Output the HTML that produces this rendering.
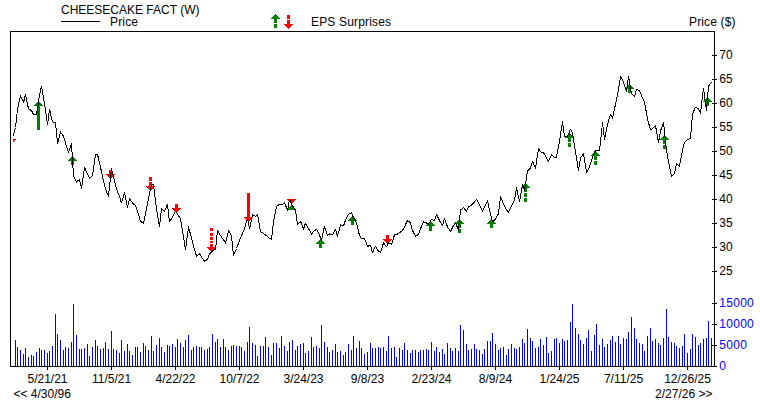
<!DOCTYPE html>
<html><head><meta charset="utf-8"><title>CHEESECAKE FACT (W)</title>
<style>
html,body{margin:0;padding:0;background:#fff;}
body{width:760px;height:400px;overflow:hidden;}
svg{display:block;}
.t{font-family:"Liberation Sans",Arial,sans-serif;font-size:12px;fill:#000;}
.b{fill:#0000ff;}
</style></head><body>
<svg width="760" height="400" viewBox="0 0 760 400">
<defs><clipPath id="cl"><rect x="13" y="32" width="701" height="334"/></clipPath></defs>
<rect width="760" height="400" fill="#fff"/>
<g shape-rendering="crispEdges">
<rect x="15" y="340" width="1" height="26" fill="#0000ff"/>
<rect x="17" y="347" width="1" height="19" fill="#0000ff"/>
<rect x="20" y="350" width="1" height="16" fill="#0000ff"/>
<rect x="23" y="354" width="1" height="12" fill="#0000ff"/>
<rect x="25" y="348" width="1" height="18" fill="#0000ff"/>
<rect x="28" y="357" width="1" height="9" fill="#0000ff"/>
<rect x="31" y="355" width="1" height="11" fill="#0000ff"/>
<rect x="33" y="356" width="1" height="10" fill="#0000ff"/>
<rect x="36" y="352" width="1" height="14" fill="#0000ff"/>
<rect x="39" y="348" width="1" height="18" fill="#0000ff"/>
<rect x="41" y="350" width="1" height="16" fill="#0000ff"/>
<rect x="44" y="350" width="1" height="16" fill="#0000ff"/>
<rect x="47" y="353" width="1" height="13" fill="#0000ff"/>
<rect x="49" y="351" width="1" height="15" fill="#0000ff"/>
<rect x="52" y="346" width="1" height="20" fill="#0000ff"/>
<rect x="55" y="314" width="1" height="52" fill="#0000ff"/>
<rect x="57" y="334" width="1" height="32" fill="#0000ff"/>
<rect x="60" y="340" width="1" height="26" fill="#0000ff"/>
<rect x="63" y="350" width="1" height="16" fill="#0000ff"/>
<rect x="65" y="347" width="1" height="19" fill="#0000ff"/>
<rect x="68" y="348" width="1" height="18" fill="#0000ff"/>
<rect x="71" y="342" width="1" height="24" fill="#0000ff"/>
<rect x="73" y="304" width="1" height="62" fill="#0000ff"/>
<rect x="76" y="335" width="1" height="31" fill="#0000ff"/>
<rect x="79" y="349" width="1" height="17" fill="#0000ff"/>
<rect x="81" y="349" width="1" height="17" fill="#0000ff"/>
<rect x="84" y="348" width="1" height="18" fill="#0000ff"/>
<rect x="87" y="344" width="1" height="22" fill="#0000ff"/>
<rect x="89" y="356" width="1" height="10" fill="#0000ff"/>
<rect x="92" y="347" width="1" height="19" fill="#0000ff"/>
<rect x="95" y="340" width="1" height="26" fill="#0000ff"/>
<rect x="97" y="346" width="1" height="20" fill="#0000ff"/>
<rect x="100" y="349" width="1" height="17" fill="#0000ff"/>
<rect x="103" y="348" width="1" height="18" fill="#0000ff"/>
<rect x="105" y="342" width="1" height="24" fill="#0000ff"/>
<rect x="108" y="349" width="1" height="17" fill="#0000ff"/>
<rect x="111" y="331" width="1" height="35" fill="#0000ff"/>
<rect x="113" y="349" width="1" height="17" fill="#0000ff"/>
<rect x="116" y="350" width="1" height="16" fill="#0000ff"/>
<rect x="119" y="353" width="1" height="13" fill="#0000ff"/>
<rect x="121" y="340" width="1" height="26" fill="#0000ff"/>
<rect x="124" y="351" width="1" height="15" fill="#0000ff"/>
<rect x="127" y="344" width="1" height="22" fill="#0000ff"/>
<rect x="129" y="351" width="1" height="15" fill="#0000ff"/>
<rect x="132" y="355" width="1" height="11" fill="#0000ff"/>
<rect x="135" y="347" width="1" height="19" fill="#0000ff"/>
<rect x="137" y="347" width="1" height="19" fill="#0000ff"/>
<rect x="140" y="352" width="1" height="14" fill="#0000ff"/>
<rect x="143" y="343" width="1" height="23" fill="#0000ff"/>
<rect x="145" y="346" width="1" height="20" fill="#0000ff"/>
<rect x="148" y="350" width="1" height="16" fill="#0000ff"/>
<rect x="151" y="336" width="1" height="30" fill="#0000ff"/>
<rect x="153" y="351" width="1" height="15" fill="#0000ff"/>
<rect x="156" y="345" width="1" height="21" fill="#0000ff"/>
<rect x="159" y="338" width="1" height="28" fill="#0000ff"/>
<rect x="161" y="347" width="1" height="19" fill="#0000ff"/>
<rect x="164" y="352" width="1" height="14" fill="#0000ff"/>
<rect x="167" y="345" width="1" height="21" fill="#0000ff"/>
<rect x="169" y="346" width="1" height="20" fill="#0000ff"/>
<rect x="172" y="344" width="1" height="22" fill="#0000ff"/>
<rect x="175" y="347" width="1" height="19" fill="#0000ff"/>
<rect x="177" y="339" width="1" height="27" fill="#0000ff"/>
<rect x="180" y="343" width="1" height="23" fill="#0000ff"/>
<rect x="183" y="347" width="1" height="19" fill="#0000ff"/>
<rect x="185" y="340" width="1" height="26" fill="#0000ff"/>
<rect x="188" y="335" width="1" height="31" fill="#0000ff"/>
<rect x="191" y="350" width="1" height="16" fill="#0000ff"/>
<rect x="193" y="347" width="1" height="19" fill="#0000ff"/>
<rect x="196" y="346" width="1" height="20" fill="#0000ff"/>
<rect x="199" y="347" width="1" height="19" fill="#0000ff"/>
<rect x="201" y="347" width="1" height="19" fill="#0000ff"/>
<rect x="204" y="350" width="1" height="16" fill="#0000ff"/>
<rect x="207" y="349" width="1" height="17" fill="#0000ff"/>
<rect x="209" y="347" width="1" height="19" fill="#0000ff"/>
<rect x="212" y="334" width="1" height="32" fill="#0000ff"/>
<rect x="215" y="342" width="1" height="24" fill="#0000ff"/>
<rect x="217" y="339" width="1" height="27" fill="#0000ff"/>
<rect x="220" y="347" width="1" height="19" fill="#0000ff"/>
<rect x="223" y="339" width="1" height="27" fill="#0000ff"/>
<rect x="225" y="347" width="1" height="19" fill="#0000ff"/>
<rect x="228" y="350" width="1" height="16" fill="#0000ff"/>
<rect x="231" y="346" width="1" height="20" fill="#0000ff"/>
<rect x="233" y="345" width="1" height="21" fill="#0000ff"/>
<rect x="236" y="346" width="1" height="20" fill="#0000ff"/>
<rect x="239" y="346" width="1" height="20" fill="#0000ff"/>
<rect x="241" y="347" width="1" height="19" fill="#0000ff"/>
<rect x="244" y="351" width="1" height="15" fill="#0000ff"/>
<rect x="247" y="342" width="1" height="24" fill="#0000ff"/>
<rect x="249" y="327" width="1" height="39" fill="#0000ff"/>
<rect x="252" y="343" width="1" height="23" fill="#0000ff"/>
<rect x="255" y="345" width="1" height="21" fill="#0000ff"/>
<rect x="257" y="356" width="1" height="10" fill="#0000ff"/>
<rect x="260" y="346" width="1" height="20" fill="#0000ff"/>
<rect x="263" y="346" width="1" height="20" fill="#0000ff"/>
<rect x="265" y="337" width="1" height="29" fill="#0000ff"/>
<rect x="268" y="347" width="1" height="19" fill="#0000ff"/>
<rect x="271" y="355" width="1" height="11" fill="#0000ff"/>
<rect x="273" y="343" width="1" height="23" fill="#0000ff"/>
<rect x="276" y="343" width="1" height="23" fill="#0000ff"/>
<rect x="279" y="348" width="1" height="18" fill="#0000ff"/>
<rect x="281" y="336" width="1" height="30" fill="#0000ff"/>
<rect x="284" y="346" width="1" height="20" fill="#0000ff"/>
<rect x="287" y="351" width="1" height="15" fill="#0000ff"/>
<rect x="289" y="342" width="1" height="24" fill="#0000ff"/>
<rect x="292" y="340" width="1" height="26" fill="#0000ff"/>
<rect x="295" y="350" width="1" height="16" fill="#0000ff"/>
<rect x="297" y="346" width="1" height="20" fill="#0000ff"/>
<rect x="300" y="344" width="1" height="22" fill="#0000ff"/>
<rect x="303" y="343" width="1" height="23" fill="#0000ff"/>
<rect x="305" y="353" width="1" height="13" fill="#0000ff"/>
<rect x="308" y="351" width="1" height="15" fill="#0000ff"/>
<rect x="311" y="337" width="1" height="29" fill="#0000ff"/>
<rect x="313" y="347" width="1" height="19" fill="#0000ff"/>
<rect x="316" y="346" width="1" height="20" fill="#0000ff"/>
<rect x="319" y="348" width="1" height="18" fill="#0000ff"/>
<rect x="321" y="325" width="1" height="41" fill="#0000ff"/>
<rect x="324" y="342" width="1" height="24" fill="#0000ff"/>
<rect x="327" y="347" width="1" height="19" fill="#0000ff"/>
<rect x="329" y="352" width="1" height="14" fill="#0000ff"/>
<rect x="332" y="350" width="1" height="16" fill="#0000ff"/>
<rect x="335" y="344" width="1" height="22" fill="#0000ff"/>
<rect x="337" y="352" width="1" height="14" fill="#0000ff"/>
<rect x="340" y="351" width="1" height="15" fill="#0000ff"/>
<rect x="343" y="355" width="1" height="11" fill="#0000ff"/>
<rect x="345" y="352" width="1" height="14" fill="#0000ff"/>
<rect x="348" y="344" width="1" height="22" fill="#0000ff"/>
<rect x="351" y="350" width="1" height="16" fill="#0000ff"/>
<rect x="353" y="336" width="1" height="30" fill="#0000ff"/>
<rect x="356" y="348" width="1" height="18" fill="#0000ff"/>
<rect x="359" y="341" width="1" height="25" fill="#0000ff"/>
<rect x="361" y="348" width="1" height="18" fill="#0000ff"/>
<rect x="364" y="354" width="1" height="12" fill="#0000ff"/>
<rect x="367" y="352" width="1" height="14" fill="#0000ff"/>
<rect x="370" y="343" width="1" height="23" fill="#0000ff"/>
<rect x="372" y="348" width="1" height="18" fill="#0000ff"/>
<rect x="375" y="348" width="1" height="18" fill="#0000ff"/>
<rect x="378" y="347" width="1" height="19" fill="#0000ff"/>
<rect x="380" y="348" width="1" height="18" fill="#0000ff"/>
<rect x="383" y="347" width="1" height="19" fill="#0000ff"/>
<rect x="386" y="351" width="1" height="15" fill="#0000ff"/>
<rect x="388" y="336" width="1" height="30" fill="#0000ff"/>
<rect x="391" y="348" width="1" height="18" fill="#0000ff"/>
<rect x="394" y="347" width="1" height="19" fill="#0000ff"/>
<rect x="396" y="357" width="1" height="9" fill="#0000ff"/>
<rect x="399" y="348" width="1" height="18" fill="#0000ff"/>
<rect x="402" y="350" width="1" height="16" fill="#0000ff"/>
<rect x="404" y="343" width="1" height="23" fill="#0000ff"/>
<rect x="407" y="350" width="1" height="16" fill="#0000ff"/>
<rect x="410" y="353" width="1" height="13" fill="#0000ff"/>
<rect x="412" y="350" width="1" height="16" fill="#0000ff"/>
<rect x="415" y="350" width="1" height="16" fill="#0000ff"/>
<rect x="418" y="352" width="1" height="14" fill="#0000ff"/>
<rect x="420" y="350" width="1" height="16" fill="#0000ff"/>
<rect x="423" y="350" width="1" height="16" fill="#0000ff"/>
<rect x="426" y="349" width="1" height="17" fill="#0000ff"/>
<rect x="428" y="350" width="1" height="16" fill="#0000ff"/>
<rect x="431" y="342" width="1" height="24" fill="#0000ff"/>
<rect x="434" y="351" width="1" height="15" fill="#0000ff"/>
<rect x="436" y="347" width="1" height="19" fill="#0000ff"/>
<rect x="439" y="352" width="1" height="14" fill="#0000ff"/>
<rect x="442" y="349" width="1" height="17" fill="#0000ff"/>
<rect x="444" y="354" width="1" height="12" fill="#0000ff"/>
<rect x="447" y="343" width="1" height="23" fill="#0000ff"/>
<rect x="450" y="348" width="1" height="18" fill="#0000ff"/>
<rect x="452" y="351" width="1" height="15" fill="#0000ff"/>
<rect x="455" y="348" width="1" height="18" fill="#0000ff"/>
<rect x="458" y="351" width="1" height="15" fill="#0000ff"/>
<rect x="460" y="325" width="1" height="41" fill="#0000ff"/>
<rect x="463" y="330" width="1" height="36" fill="#0000ff"/>
<rect x="466" y="344" width="1" height="22" fill="#0000ff"/>
<rect x="468" y="350" width="1" height="16" fill="#0000ff"/>
<rect x="471" y="349" width="1" height="17" fill="#0000ff"/>
<rect x="474" y="344" width="1" height="22" fill="#0000ff"/>
<rect x="476" y="349" width="1" height="17" fill="#0000ff"/>
<rect x="479" y="350" width="1" height="16" fill="#0000ff"/>
<rect x="482" y="354" width="1" height="12" fill="#0000ff"/>
<rect x="484" y="349" width="1" height="17" fill="#0000ff"/>
<rect x="487" y="341" width="1" height="25" fill="#0000ff"/>
<rect x="490" y="341" width="1" height="25" fill="#0000ff"/>
<rect x="492" y="333" width="1" height="33" fill="#0000ff"/>
<rect x="495" y="344" width="1" height="22" fill="#0000ff"/>
<rect x="498" y="350" width="1" height="16" fill="#0000ff"/>
<rect x="500" y="348" width="1" height="18" fill="#0000ff"/>
<rect x="503" y="347" width="1" height="19" fill="#0000ff"/>
<rect x="506" y="355" width="1" height="11" fill="#0000ff"/>
<rect x="508" y="349" width="1" height="17" fill="#0000ff"/>
<rect x="511" y="344" width="1" height="22" fill="#0000ff"/>
<rect x="514" y="348" width="1" height="18" fill="#0000ff"/>
<rect x="516" y="349" width="1" height="17" fill="#0000ff"/>
<rect x="519" y="347" width="1" height="19" fill="#0000ff"/>
<rect x="522" y="339" width="1" height="27" fill="#0000ff"/>
<rect x="524" y="343" width="1" height="23" fill="#0000ff"/>
<rect x="527" y="329" width="1" height="37" fill="#0000ff"/>
<rect x="530" y="338" width="1" height="28" fill="#0000ff"/>
<rect x="532" y="341" width="1" height="25" fill="#0000ff"/>
<rect x="535" y="348" width="1" height="18" fill="#0000ff"/>
<rect x="538" y="347" width="1" height="19" fill="#0000ff"/>
<rect x="540" y="339" width="1" height="27" fill="#0000ff"/>
<rect x="543" y="345" width="1" height="21" fill="#0000ff"/>
<rect x="546" y="337" width="1" height="29" fill="#0000ff"/>
<rect x="548" y="353" width="1" height="13" fill="#0000ff"/>
<rect x="551" y="351" width="1" height="15" fill="#0000ff"/>
<rect x="554" y="339" width="1" height="27" fill="#0000ff"/>
<rect x="556" y="338" width="1" height="28" fill="#0000ff"/>
<rect x="559" y="343" width="1" height="23" fill="#0000ff"/>
<rect x="562" y="339" width="1" height="27" fill="#0000ff"/>
<rect x="564" y="341" width="1" height="25" fill="#0000ff"/>
<rect x="567" y="340" width="1" height="26" fill="#0000ff"/>
<rect x="570" y="322" width="1" height="44" fill="#0000ff"/>
<rect x="572" y="304" width="1" height="62" fill="#0000ff"/>
<rect x="575" y="328" width="1" height="38" fill="#0000ff"/>
<rect x="578" y="334" width="1" height="32" fill="#0000ff"/>
<rect x="580" y="340" width="1" height="26" fill="#0000ff"/>
<rect x="583" y="344" width="1" height="22" fill="#0000ff"/>
<rect x="586" y="338" width="1" height="28" fill="#0000ff"/>
<rect x="588" y="330" width="1" height="36" fill="#0000ff"/>
<rect x="591" y="351" width="1" height="15" fill="#0000ff"/>
<rect x="594" y="335" width="1" height="31" fill="#0000ff"/>
<rect x="596" y="324" width="1" height="42" fill="#0000ff"/>
<rect x="599" y="345" width="1" height="21" fill="#0000ff"/>
<rect x="602" y="339" width="1" height="27" fill="#0000ff"/>
<rect x="604" y="347" width="1" height="19" fill="#0000ff"/>
<rect x="607" y="344" width="1" height="22" fill="#0000ff"/>
<rect x="610" y="340" width="1" height="26" fill="#0000ff"/>
<rect x="612" y="336" width="1" height="30" fill="#0000ff"/>
<rect x="615" y="342" width="1" height="24" fill="#0000ff"/>
<rect x="618" y="336" width="1" height="30" fill="#0000ff"/>
<rect x="620" y="344" width="1" height="22" fill="#0000ff"/>
<rect x="623" y="338" width="1" height="28" fill="#0000ff"/>
<rect x="626" y="339" width="1" height="27" fill="#0000ff"/>
<rect x="628" y="332" width="1" height="34" fill="#0000ff"/>
<rect x="631" y="317" width="1" height="49" fill="#0000ff"/>
<rect x="634" y="328" width="1" height="38" fill="#0000ff"/>
<rect x="636" y="339" width="1" height="27" fill="#0000ff"/>
<rect x="639" y="343" width="1" height="23" fill="#0000ff"/>
<rect x="642" y="344" width="1" height="22" fill="#0000ff"/>
<rect x="644" y="351" width="1" height="15" fill="#0000ff"/>
<rect x="647" y="336" width="1" height="30" fill="#0000ff"/>
<rect x="650" y="328" width="1" height="38" fill="#0000ff"/>
<rect x="652" y="341" width="1" height="25" fill="#0000ff"/>
<rect x="655" y="339" width="1" height="27" fill="#0000ff"/>
<rect x="658" y="343" width="1" height="23" fill="#0000ff"/>
<rect x="660" y="345" width="1" height="21" fill="#0000ff"/>
<rect x="663" y="338" width="1" height="28" fill="#0000ff"/>
<rect x="666" y="309" width="1" height="57" fill="#0000ff"/>
<rect x="668" y="337" width="1" height="29" fill="#0000ff"/>
<rect x="671" y="342" width="1" height="24" fill="#0000ff"/>
<rect x="674" y="343" width="1" height="23" fill="#0000ff"/>
<rect x="676" y="346" width="1" height="20" fill="#0000ff"/>
<rect x="679" y="348" width="1" height="18" fill="#0000ff"/>
<rect x="682" y="346" width="1" height="20" fill="#0000ff"/>
<rect x="684" y="334" width="1" height="32" fill="#0000ff"/>
<rect x="687" y="353" width="1" height="13" fill="#0000ff"/>
<rect x="690" y="349" width="1" height="17" fill="#0000ff"/>
<rect x="692" y="334" width="1" height="32" fill="#0000ff"/>
<rect x="695" y="337" width="1" height="29" fill="#0000ff"/>
<rect x="698" y="345" width="1" height="21" fill="#0000ff"/>
<rect x="700" y="343" width="1" height="23" fill="#0000ff"/>
<rect x="703" y="339" width="1" height="27" fill="#0000ff"/>
<rect x="706" y="338" width="1" height="28" fill="#0000ff"/>
<rect x="708" y="321" width="1" height="45" fill="#0000ff"/>
<rect x="711" y="338" width="1" height="28" fill="#0000ff"/>
<g clip-path="url(#cl)">
<rect x="11" y="143" width="1" height="1" fill="#ff0000"/>
<rect x="10" y="142" width="3" height="1" fill="#ff0000"/>
<rect x="9" y="141" width="5" height="1" fill="#ff0000"/>
<rect x="8" y="140" width="7" height="1" fill="#ff0000"/>
<rect x="7" y="139" width="9" height="1" fill="#ff0000"/>
</g>
<rect x="38" y="101" width="1" height="1" fill="#008000"/>
<rect x="37" y="102" width="3" height="1" fill="#008000"/>
<rect x="36" y="103" width="5" height="1" fill="#008000"/>
<rect x="35" y="104" width="7" height="1" fill="#008000"/>
<rect x="34" y="105" width="9" height="1" fill="#008000"/>
<rect x="37" y="106" width="3" height="24" fill="#008000"/>
<rect x="72" y="156" width="1" height="1" fill="#008000"/>
<rect x="71" y="157" width="3" height="1" fill="#008000"/>
<rect x="70" y="158" width="5" height="1" fill="#008000"/>
<rect x="69" y="159" width="7" height="1" fill="#008000"/>
<rect x="68" y="160" width="9" height="1" fill="#008000"/>
<rect x="71" y="161" width="3" height="4" fill="#008000"/>
<rect x="110" y="178" width="1" height="1" fill="#ff0000"/>
<rect x="109" y="177" width="3" height="1" fill="#ff0000"/>
<rect x="108" y="176" width="5" height="1" fill="#ff0000"/>
<rect x="107" y="175" width="7" height="1" fill="#ff0000"/>
<rect x="106" y="174" width="9" height="1" fill="#ff0000"/>
<rect x="109" y="170" width="3" height="4" fill="#ff0000"/>
<rect x="150" y="190" width="1" height="1" fill="#ff0000"/>
<rect x="149" y="189" width="3" height="1" fill="#ff0000"/>
<rect x="148" y="188" width="5" height="1" fill="#ff0000"/>
<rect x="147" y="187" width="7" height="1" fill="#ff0000"/>
<rect x="146" y="186" width="9" height="1" fill="#ff0000"/>
<rect x="149" y="177" width="3" height="4" fill="#ff0000"/>
<rect x="149" y="182" width="3" height="4" fill="#ff0000"/>
<rect x="176" y="212" width="1" height="1" fill="#ff0000"/>
<rect x="175" y="211" width="3" height="1" fill="#ff0000"/>
<rect x="174" y="210" width="5" height="1" fill="#ff0000"/>
<rect x="173" y="209" width="7" height="1" fill="#ff0000"/>
<rect x="172" y="208" width="9" height="1" fill="#ff0000"/>
<rect x="175" y="204" width="3" height="4" fill="#ff0000"/>
<rect x="211" y="251" width="1" height="1" fill="#ff0000"/>
<rect x="210" y="250" width="3" height="1" fill="#ff0000"/>
<rect x="209" y="249" width="5" height="1" fill="#ff0000"/>
<rect x="208" y="248" width="7" height="1" fill="#ff0000"/>
<rect x="207" y="247" width="9" height="1" fill="#ff0000"/>
<rect x="210" y="228" width="3" height="3" fill="#ff0000"/>
<rect x="210" y="233" width="3" height="3" fill="#ff0000"/>
<rect x="210" y="237" width="3" height="3" fill="#ff0000"/>
<rect x="210" y="241" width="3" height="2" fill="#ff0000"/>
<rect x="210" y="244" width="3" height="3" fill="#ff0000"/>
<rect x="248" y="221" width="1" height="1" fill="#ff0000"/>
<rect x="247" y="220" width="3" height="1" fill="#ff0000"/>
<rect x="246" y="219" width="5" height="1" fill="#ff0000"/>
<rect x="245" y="218" width="7" height="1" fill="#ff0000"/>
<rect x="244" y="217" width="9" height="1" fill="#ff0000"/>
<rect x="247" y="193" width="3" height="24" fill="#ff0000"/>
<rect x="291" y="203" width="1" height="1" fill="#ff0000"/>
<rect x="290" y="202" width="3" height="1" fill="#ff0000"/>
<rect x="289" y="201" width="5" height="1" fill="#ff0000"/>
<rect x="288" y="200" width="7" height="1" fill="#ff0000"/>
<rect x="287" y="199" width="9" height="1" fill="#ff0000"/>
<rect x="291" y="205" width="1" height="1" fill="#008000"/>
<rect x="290" y="206" width="3" height="1" fill="#008000"/>
<rect x="289" y="207" width="5" height="1" fill="#008000"/>
<rect x="288" y="208" width="7" height="1" fill="#008000"/>
<rect x="287" y="209" width="9" height="1" fill="#008000"/>
<rect x="320" y="239" width="1" height="1" fill="#008000"/>
<rect x="319" y="240" width="3" height="1" fill="#008000"/>
<rect x="318" y="241" width="5" height="1" fill="#008000"/>
<rect x="317" y="242" width="7" height="1" fill="#008000"/>
<rect x="316" y="243" width="9" height="1" fill="#008000"/>
<rect x="319" y="244" width="3" height="4" fill="#008000"/>
<rect x="352" y="216" width="1" height="1" fill="#008000"/>
<rect x="351" y="217" width="3" height="1" fill="#008000"/>
<rect x="350" y="218" width="5" height="1" fill="#008000"/>
<rect x="349" y="219" width="7" height="1" fill="#008000"/>
<rect x="348" y="220" width="9" height="1" fill="#008000"/>
<rect x="351" y="221" width="3" height="4" fill="#008000"/>
<rect x="387" y="243" width="1" height="1" fill="#ff0000"/>
<rect x="386" y="242" width="3" height="1" fill="#ff0000"/>
<rect x="385" y="241" width="5" height="1" fill="#ff0000"/>
<rect x="384" y="240" width="7" height="1" fill="#ff0000"/>
<rect x="383" y="239" width="9" height="1" fill="#ff0000"/>
<rect x="386" y="235" width="3" height="4" fill="#ff0000"/>
<rect x="430" y="221" width="1" height="1" fill="#008000"/>
<rect x="429" y="222" width="3" height="1" fill="#008000"/>
<rect x="428" y="223" width="5" height="1" fill="#008000"/>
<rect x="427" y="224" width="7" height="1" fill="#008000"/>
<rect x="426" y="225" width="9" height="1" fill="#008000"/>
<rect x="429" y="226" width="3" height="5" fill="#008000"/>
<rect x="459" y="219" width="1" height="1" fill="#008000"/>
<rect x="458" y="220" width="3" height="1" fill="#008000"/>
<rect x="457" y="221" width="5" height="1" fill="#008000"/>
<rect x="456" y="222" width="7" height="1" fill="#008000"/>
<rect x="455" y="223" width="9" height="1" fill="#008000"/>
<rect x="458" y="224" width="3" height="4" fill="#008000"/>
<rect x="458" y="229" width="3" height="4" fill="#008000"/>
<rect x="491" y="219" width="1" height="1" fill="#008000"/>
<rect x="490" y="220" width="3" height="1" fill="#008000"/>
<rect x="489" y="221" width="5" height="1" fill="#008000"/>
<rect x="488" y="222" width="7" height="1" fill="#008000"/>
<rect x="487" y="223" width="9" height="1" fill="#008000"/>
<rect x="490" y="224" width="3" height="4" fill="#008000"/>
<rect x="525" y="183" width="1" height="1" fill="#008000"/>
<rect x="524" y="184" width="3" height="1" fill="#008000"/>
<rect x="523" y="185" width="5" height="1" fill="#008000"/>
<rect x="522" y="186" width="7" height="1" fill="#008000"/>
<rect x="521" y="187" width="9" height="1" fill="#008000"/>
<rect x="524" y="188" width="3" height="4" fill="#008000"/>
<rect x="524" y="193" width="3" height="4" fill="#008000"/>
<rect x="524" y="198" width="3" height="4" fill="#008000"/>
<rect x="569" y="133" width="1" height="1" fill="#008000"/>
<rect x="568" y="134" width="3" height="1" fill="#008000"/>
<rect x="567" y="135" width="5" height="1" fill="#008000"/>
<rect x="566" y="136" width="7" height="1" fill="#008000"/>
<rect x="565" y="137" width="9" height="1" fill="#008000"/>
<rect x="568" y="138" width="3" height="4" fill="#008000"/>
<rect x="568" y="143" width="3" height="4" fill="#008000"/>
<rect x="595" y="151" width="1" height="1" fill="#008000"/>
<rect x="594" y="152" width="3" height="1" fill="#008000"/>
<rect x="593" y="153" width="5" height="1" fill="#008000"/>
<rect x="592" y="154" width="7" height="1" fill="#008000"/>
<rect x="591" y="155" width="9" height="1" fill="#008000"/>
<rect x="594" y="156" width="3" height="4" fill="#008000"/>
<rect x="594" y="161" width="3" height="4" fill="#008000"/>
<rect x="629" y="84" width="1" height="1" fill="#008000"/>
<rect x="628" y="85" width="3" height="1" fill="#008000"/>
<rect x="627" y="86" width="5" height="1" fill="#008000"/>
<rect x="626" y="87" width="7" height="1" fill="#008000"/>
<rect x="625" y="88" width="9" height="1" fill="#008000"/>
<rect x="628" y="89" width="3" height="4" fill="#008000"/>
<rect x="664" y="135" width="1" height="1" fill="#008000"/>
<rect x="663" y="136" width="3" height="1" fill="#008000"/>
<rect x="662" y="137" width="5" height="1" fill="#008000"/>
<rect x="661" y="138" width="7" height="1" fill="#008000"/>
<rect x="660" y="139" width="9" height="1" fill="#008000"/>
<rect x="663" y="140" width="3" height="4" fill="#008000"/>
<rect x="663" y="145" width="3" height="4" fill="#008000"/>
<rect x="707" y="97" width="1" height="1" fill="#008000"/>
<rect x="706" y="98" width="3" height="1" fill="#008000"/>
<rect x="705" y="99" width="5" height="1" fill="#008000"/>
<rect x="704" y="100" width="7" height="1" fill="#008000"/>
<rect x="703" y="101" width="9" height="1" fill="#008000"/>
<rect x="706" y="102" width="3" height="4" fill="#008000"/>
<rect x="275" y="14" width="1" height="1" fill="#008000"/>
<rect x="274" y="15" width="3" height="1" fill="#008000"/>
<rect x="273" y="16" width="5" height="1" fill="#008000"/>
<rect x="272" y="17" width="7" height="1" fill="#008000"/>
<rect x="271" y="18" width="9" height="1" fill="#008000"/>
<rect x="274" y="19" width="3" height="4" fill="#008000"/>
<rect x="274" y="24" width="3" height="4" fill="#008000"/>
<rect x="288" y="28" width="1" height="1" fill="#ff0000"/>
<rect x="287" y="27" width="3" height="1" fill="#ff0000"/>
<rect x="286" y="26" width="5" height="1" fill="#ff0000"/>
<rect x="285" y="25" width="7" height="1" fill="#ff0000"/>
<rect x="284" y="24" width="9" height="1" fill="#ff0000"/>
<rect x="287" y="15" width="3" height="4" fill="#ff0000"/>
<rect x="287" y="20" width="3" height="4" fill="#ff0000"/>
<rect x="61" y="21" width="39" height="1" fill="#000"/>
<g clip-path="url(#cl)"><polyline points="12.8,137.0 15.5,127.5 17.5,109.0 20.5,95.5 23.5,102.5 25.5,94.5 28.5,108.8 31.5,110.5 33.5,114.5 36.5,114.5 39.5,95.0 41.5,86.2 44.5,103.8 47.5,124.4 49.5,109.4 52.5,122.0 55.5,122.5 57.5,143.5 60.5,132.0 63.5,136.2 65.5,143.0 68.5,152.5 71.5,143.5 73.5,175.6 76.5,182.0 79.5,179.4 81.5,188.2 84.5,167.5 87.5,174.0 89.5,178.0 92.5,175.6 95.5,154.4 97.5,154.4 100.5,167.0 103.5,181.5 105.5,189.0 108.5,196.2 111.5,168.5 113.5,177.0 116.5,188.8 119.5,196.6 121.5,203.0 124.5,192.5 127.5,207.2 129.5,198.6 132.5,203.0 135.5,205.6 137.5,211.0 140.5,221.5 143.5,223.0 145.5,214.0 148.5,198.5 151.5,184.4 153.5,184.4 156.5,208.8 159.5,226.5 161.5,208.5 164.5,211.2 167.5,204.4 169.5,222.0 172.5,217.0 175.5,211.2 177.5,213.8 180.5,219.0 183.5,237.0 185.5,250.0 188.5,227.0 191.5,238.0 193.5,246.0 196.5,256.2 199.5,253.8 201.5,257.0 204.5,261.2 207.5,259.4 209.5,254.0 212.5,251.0 215.5,249.4 217.5,230.6 220.5,235.6 223.5,239.8 225.5,243.0 228.5,230.6 231.5,236.0 233.5,255.5 236.5,248.5 239.5,240.6 241.5,235.6 244.5,228.8 247.5,218.0 249.5,229.0 252.5,215.0 255.5,216.2 257.5,214.4 260.5,231.5 263.5,233.5 265.5,235.0 268.5,237.5 271.5,239.4 273.5,222.0 276.5,206.2 279.5,204.4 281.5,205.0 284.5,202.5 287.5,210.6 289.5,199.4 292.5,206.0 295.5,210.0 297.5,224.4 300.5,221.2 303.5,229.0 305.5,223.2 308.5,228.5 311.5,234.0 313.5,231.5 316.5,229.4 319.5,235.0 321.5,240.6 324.5,226.2 327.5,235.6 329.5,234.0 332.5,234.8 335.5,229.4 337.5,236.2 340.5,225.0 343.5,226.0 345.5,220.0 348.5,214.4 351.5,213.0 353.5,217.5 356.5,223.0 359.5,235.6 361.5,238.5 364.5,238.5 367.5,246.2 370.5,245.6 372.5,252.5 375.5,246.2 378.5,251.2 380.5,252.5 383.5,243.0 386.5,246.9 388.5,242.5 391.5,244.4 394.5,235.0 396.5,234.5 399.5,232.9 402.5,230.6 404.5,226.9 407.5,220.4 410.5,222.8 412.5,230.6 415.5,236.2 418.5,234.4 420.5,228.8 423.5,221.9 426.5,223.0 428.5,224.0 431.5,219.4 434.5,220.6 436.5,214.6 439.5,220.6 442.5,225.4 444.5,218.5 447.5,226.9 450.5,231.5 452.5,227.5 455.5,222.2 458.5,230.6 460.5,210.0 463.5,207.5 466.5,211.2 468.5,206.9 471.5,205.2 474.5,201.9 476.5,199.2 479.5,205.0 482.5,211.2 484.5,207.2 487.5,200.6 490.5,214.5 492.5,221.9 495.5,219.0 498.5,213.5 500.5,196.5 503.5,203.8 506.5,210.2 508.5,212.2 511.5,205.6 514.5,200.0 516.5,187.5 519.5,201.5 522.5,185.0 524.5,190.0 527.5,171.2 530.5,168.0 532.5,161.2 535.5,168.4 538.5,148.5 540.5,151.9 543.5,152.5 546.5,158.0 548.5,161.2 551.5,154.8 554.5,157.2 556.5,157.2 559.5,141.0 562.5,122.0 564.5,136.5 567.5,136.5 570.5,129.2 572.5,133.0 575.5,152.0 578.5,170.6 580.5,158.0 583.5,153.5 586.5,172.5 588.5,169.4 591.5,160.6 594.5,151.5 596.5,150.6 599.5,151.0 602.5,123.0 604.5,139.4 607.5,124.4 610.5,114.4 612.5,118.0 615.5,104.4 618.5,90.0 620.5,76.4 623.5,82.0 626.5,91.5 628.5,76.3 631.5,93.5 634.5,96.4 636.5,89.6 639.5,90.3 642.5,97.8 644.5,102.0 647.5,118.8 650.5,130.0 652.5,128.5 655.5,125.6 658.5,142.5 660.5,131.0 663.5,122.5 666.5,150.0 668.5,161.5 671.5,176.2 674.5,173.8 676.5,163.5 679.5,166.2 682.5,150.0 684.5,142.5 687.5,139.8 690.5,138.0 692.5,114.0 695.5,107.2 698.5,109.0 700.5,113.0 703.5,88.1 706.5,110.6 708.5,86.3 711.5,82.2" fill="none" stroke="#000" stroke-width="1" stroke-linejoin="round"/></g>
</g>
<g shape-rendering="crispEdges">
<rect x="10.5" y="31.5" width="704" height="335" fill="none" stroke="#000" stroke-width="1"/>
<rect x="712" y="55" width="5" height="1" fill="#000"/>
<text x="719.3" y="59.1" class="t">70</text>
<rect x="712" y="79" width="5" height="1" fill="#000"/>
<text x="719.3" y="83.1" class="t">65</text>
<rect x="712" y="103" width="5" height="1" fill="#000"/>
<text x="719.3" y="107.1" class="t">60</text>
<rect x="712" y="127" width="5" height="1" fill="#000"/>
<text x="719.3" y="131.1" class="t">55</text>
<rect x="712" y="151" width="5" height="1" fill="#000"/>
<text x="719.3" y="155.1" class="t">50</text>
<rect x="712" y="175" width="5" height="1" fill="#000"/>
<text x="719.3" y="179.1" class="t">45</text>
<rect x="712" y="199" width="5" height="1" fill="#000"/>
<text x="719.3" y="203.1" class="t">40</text>
<rect x="712" y="223" width="5" height="1" fill="#000"/>
<text x="719.3" y="227.1" class="t">35</text>
<rect x="712" y="247" width="5" height="1" fill="#000"/>
<text x="719.3" y="251.1" class="t">30</text>
<rect x="712" y="271" width="5" height="1" fill="#000"/>
<text x="719.3" y="275.1" class="t">25</text>
<rect x="712" y="303" width="5" height="1" fill="#000"/>
<text x="719.3" y="307.1" class="t b" textLength="34.5" lengthAdjust="spacing">15000</text>
<rect x="712" y="324" width="5" height="1" fill="#000"/>
<text x="719.3" y="328.1" class="t b" textLength="34.5" lengthAdjust="spacing">10000</text>
<rect x="712" y="345" width="5" height="1" fill="#000"/>
<text x="719.3" y="349.1" class="t b" textLength="27.6" lengthAdjust="spacing">5000</text>
<rect x="714" y="366" width="3" height="1" fill="#000"/>
<text x="719.3" y="369.6" class="t b">0</text>
<rect x="47" y="366" width="1" height="4" fill="#000"/>
<text x="47.5" y="383" class="t" text-anchor="middle">5/21/21</text>
<rect x="111" y="366" width="1" height="4" fill="#000"/>
<text x="111.5" y="383" class="t" text-anchor="middle">11/5/21</text>
<rect x="175" y="366" width="1" height="4" fill="#000"/>
<text x="175.5" y="383" class="t" text-anchor="middle">4/22/22</text>
<rect x="239" y="366" width="1" height="4" fill="#000"/>
<text x="239.5" y="383" class="t" text-anchor="middle">10/7/22</text>
<rect x="303" y="366" width="1" height="4" fill="#000"/>
<text x="303.5" y="383" class="t" text-anchor="middle">3/24/23</text>
<rect x="367" y="366" width="1" height="4" fill="#000"/>
<text x="367.5" y="383" class="t" text-anchor="middle">9/8/23</text>
<rect x="431" y="366" width="1" height="4" fill="#000"/>
<text x="431.5" y="383" class="t" text-anchor="middle">2/23/24</text>
<rect x="495" y="366" width="1" height="4" fill="#000"/>
<text x="495.5" y="383" class="t" text-anchor="middle">8/9/24</text>
<rect x="559" y="366" width="1" height="4" fill="#000"/>
<text x="559.5" y="383" class="t" text-anchor="middle">1/24/25</text>
<rect x="623" y="366" width="1" height="4" fill="#000"/>
<text x="623.5" y="383" class="t" text-anchor="middle">7/11/25</text>
<rect x="687" y="366" width="1" height="4" fill="#000"/>
<text x="687.5" y="383" class="t" text-anchor="middle">12/26/25</text>
</g>
<text x="61" y="14" class="t">CHEESECAKE FACT (W)</text>
<text x="110" y="26" class="t" textLength="28" lengthAdjust="spacing">Price</text>
<text x="311" y="26" class="t" textLength="80" lengthAdjust="spacing">EPS Surprises</text>
<text x="689" y="26" class="t" textLength="46.5" lengthAdjust="spacing">Price ($)</text>
<text x="13.5" y="397.5" class="t">&lt;&lt; 4/30/96</text>
<text x="712.5" y="397.5" class="t" text-anchor="end">2/27/26 &gt;&gt;</text>
</svg>
</body></html>
